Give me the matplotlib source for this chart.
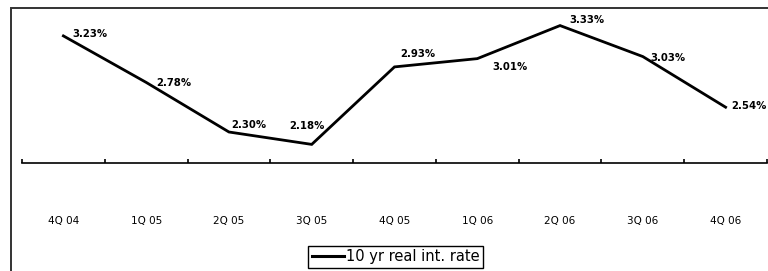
import numpy as np
import matplotlib
matplotlib.use("Agg")
import matplotlib.pyplot as plt
from matplotlib.patches import Rectangle

quarters = ["4Q 04", "1Q 05", "2Q 05", "3Q 05", "4Q 05", "1Q 06", "2Q 06", "3Q 06", "4Q 06"]
real_rate = [3.23, 2.78, 2.30, 2.18, 2.93, 3.01, 3.33, 3.03, 2.54]
series_name = "10 yr real int. rate"
# label offsets from each point, in pixels (dx right, dy up)
label_dx = [9, 10, 2, -22, 6, 15, 9, 8, 6]
label_dy = [2, -1, 7, 18, 13, -8, 6, -1, 1]

W, H = 768, 271
fig = plt.figure(figsize=(W / 100, H / 100), dpi=100)
ax = fig.add_axes([22 / W, 1 - 163 / H, 745 / W, (163 - 8) / H])

x = np.arange(len(quarters))
ax.plot(x, real_rate, color="black", lw=2.0, solid_joinstyle="miter", label=series_name)
for i, v in enumerate(real_rate):
    ax.annotate(f"{v:.2f}%", (x[i], v), xytext=(label_dx[i] * 0.72, label_dy[i] * 0.72),
                textcoords="offset points", ha="left", va="center",
                fontsize=7.3, fontweight="bold", color="black")

ax.set_xlim(-0.5, len(quarters) - 0.5)
ax.set_ylim(2.0, 3.5)
for s in ["top", "right", "left"]:
    ax.spines[s].set_visible(False)
ax.spines["bottom"].set_linewidth(1.2)
ax.set_yticks([])
ax.set_xticks(x)
ax.set_xticklabels(quarters, fontsize=7.5)
ax.tick_params(axis="x", which="major", length=0, pad=38)
ax.set_xticks(np.arange(len(quarters) + 1) - 0.5, minor=True)
ax.tick_params(axis="x", which="minor", direction="in", length=3, width=1.2)

leg = fig.legend(loc="center", bbox_to_anchor=(395.5 / W, 1 - 257 / H), frameon=True,
                 fancybox=False, edgecolor="black", framealpha=1, fontsize=10.5,
                 handlelength=2.2, handletextpad=0.15, borderpad=0.25, borderaxespad=0)
leg.get_frame().set_linewidth(1.0)
for ln in leg.get_lines():
    ln.set_linewidth(2.2)

# outer chart border (right/bottom edges fall outside the image)
fig.patches.append(Rectangle((11 / W, -0.05), 1.0, 1 - 8 / H + 0.05, transform=fig.transFigure,
                             fill=False, edgecolor="#333333", lw=1.4))

fig.savefig("out.png", dpi=100)
